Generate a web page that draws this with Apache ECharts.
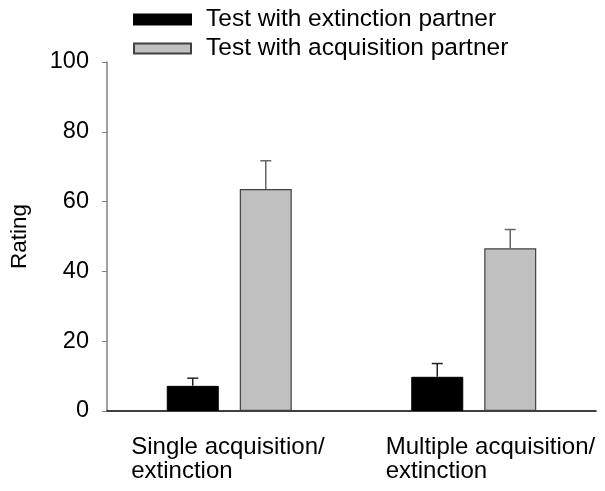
<!DOCTYPE html>
<html>
<head>
<meta charset="utf-8">
<script src="https://cdn.jsdelivr.net/npm/echarts@6/dist/echarts.min.js"></script>
<style>html,body{margin:0;padding:0;background:#fff}#c{width:605px;height:491px}</style>
</head>
<body>
<div id="c"></div>
<script>
// ---- data ----
const categories = ['Single acquisition/\nextinction', 'Multiple acquisition/\nextinction'];
const seriesNames = ['Test with extinction partner', 'Test with acquisition partner'];
const extinctionMean = [7.2, 9.8];
const extinctionSEM = [2.2, 3.8];
const acquisitionMean = [63.6, 46.6];
const acquisitionSEM = [8.1, 5.4];
const yTicks = [0, 20, 40, 60, 80, 100];

// ---- styling ----
const FONT = 'Liberation Sans, Arial, sans-serif';
const BAR_W = 52, BAR_GAP = 21;
const LABEL_BOX = [196, 176]; // left-aligned label box widths per category

const chart = echarts.init(document.getElementById('c'), null, {renderer: 'canvas'});

function errSeries(means, sems, sign, color) {
  return {
    type: 'custom',
    z: 5,
    silent: true,
    data: means.map((m, i) => [i, m, m + sems[i]]),
    renderItem: function (params, api) {
      const i = api.value(0);
      const base = api.coord([i, api.value(1)]);
      const top = api.coord([i, api.value(2)]);
      const x = base[0] + sign * (BAR_W + BAR_GAP) / 2;
      const cap = 5.5;
      return {
        type: 'group',
        children: [
          {type: 'line', shape: {x1: x, y1: base[1], x2: x, y2: top[1]}, style: {stroke: color, lineWidth: 1.5}},
          {type: 'line', shape: {x1: x - cap, y1: top[1], x2: x + cap, y2: top[1]}, style: {stroke: color, lineWidth: 1.5}}
        ]
      };
    }
  };
}

const rich = {};
LABEL_BOX.forEach((w, i) => {
  rich['c' + i] = {width: w, align: 'left', fontSize: 24, lineHeight: 24, fontFamily: FONT, color: '#000'};
});

chart.setOption({
  animation: false,
  textStyle: {fontFamily: FONT},
  grid: {left: 105, right: 9, top: 62, bottom: 80, containLabel: false},
  legend: {
    data: seriesNames,
    orient: 'vertical',
    left: 133, top: 7, padding: 0,
    icon: 'rect',
    itemWidth: 57, itemHeight: 10,
    itemGap: 4,
    textStyle: {fontSize: 24.5, lineHeight: 25, color: '#000', fontFamily: FONT, padding: [0, 0, 0, 10]}
  },
  xAxis: {
    type: 'category',
    data: categories,
    axisLine: {lineStyle: {color: '#000', width: 1.5}},
    axisTick: {show: false},
    axisLabel: {
      interval: 0,
      margin: 24,
      color: '#000',
      fontSize: 24,
      fontFamily: FONT,
      lineHeight: 24,
      formatter: function (v, idx) {
        return v.split('\n').map(s => '{c' + idx + '|' + s + '}').join('\n');
      },
      rich: rich
    }
  },
  yAxis: {
    type: 'value',
    min: yTicks[0], max: yTicks[yTicks.length - 1], interval: 20,
    name: 'Rating',
    nameLocation: 'middle',
    nameGap: 76,
    nameRotate: 90,
    nameTextStyle: {fontSize: 22.5, color: '#000', fontFamily: FONT},
    axisLine: {show: true, lineStyle: {color: '#808080', width: 1.5}},
    axisTick: {show: true, inside: false, length: 5, lineStyle: {color: '#808080'}},
    axisLabel: {color: '#000', fontSize: 23.5, fontFamily: FONT, margin: 18},
    splitLine: {show: false}
  },
  series: [
    {
      name: seriesNames[0], type: 'bar', data: extinctionMean,
      barWidth: BAR_W, barGap: (BAR_GAP / BAR_W * 100) + '%',
      itemStyle: {color: '#000', borderColor: '#000', borderWidth: 1}
    },
    {
      name: seriesNames[1], type: 'bar', data: acquisitionMean,
      barWidth: BAR_W,
      itemStyle: {color: '#c0c0c0', borderColor: '#404040', borderWidth: 1.2}
    },
    errSeries(extinctionMean, extinctionSEM, -1, '#222'),
    errSeries(acquisitionMean, acquisitionSEM, 1, '#666')
  ]
});
</script>
</body>
</html>
